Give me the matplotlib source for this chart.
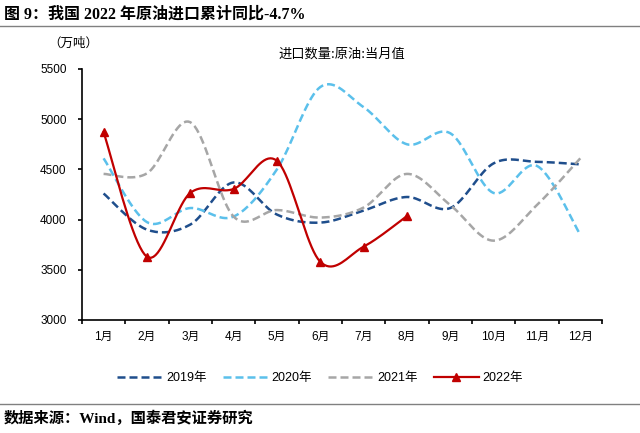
import matplotlib

matplotlib.use("Agg")
import matplotlib.pyplot as plt
import numpy as np

plt.rcParams["font.family"] = ["Liberation Sans", "Noto Sans CJK SC"]

months = ["1月", "2月", "3月", "4月", "5月", "6月",
          "7月", "8月", "9月", "10月", "11月", "12月"]

# 原油进口数量, 当月值 (万吨)
y2019 = [4260, 3900, 3950, 4370, 4050, 3970, 4090, 4225, 4115, 4560, 4575, 4550]
y2020 = [4610, 3975, 4115, 4030, 4500, 5320, 5120, 4750, 4860, 4265, 4535, 3850]
y2021 = [4455, 4460, 4970, 4030, 4095, 4020, 4120, 4455, 4145, 3790, 4145, 4610]
y2022 = [4870, 3630, 4265, 4305, 4585, 3580, 3730, 4035]


def smooth(x, y, n=20):
    # Catmull-Rom curve through the points, like Excel's "smoothed line"
    x = np.asarray(x, float)
    y = np.asarray(y, float)
    px = np.concatenate([[x[0]], x, [x[-1]]])
    py = np.concatenate([[y[0]], y, [y[-1]]])
    t = np.linspace(0, 1, n, endpoint=False)
    xs, ys = [], []
    for i in range(1, len(px) - 2):
        for p, out in ((px, xs), (py, ys)):
            p0, p1, p2, p3 = p[i - 1], p[i], p[i + 1], p[i + 2]
            out.extend(0.5 * (2 * p1 + (-p0 + p2) * t
                              + (2 * p0 - 5 * p1 + 4 * p2 - p3) * t ** 2
                              + (-p0 + 3 * p1 - 3 * p2 + p3) * t ** 3))
    xs.append(x[-1])
    ys.append(y[-1])
    return np.array(xs), np.array(ys)


fig = plt.figure(figsize=(6.4, 4.33), dpi=100)
ax = fig.add_axes([0.128, 0.261, 0.8125, 0.5797])

dash = (0, (3.2, 1.6))
series = [
    (y2019, "2019年", "#1F4E8C", dash),
    (y2020, "2020年", "#5BC0EB", dash),
    (y2021, "2021年", "#A6A6A6", dash),
]
for vals, label, color, ls in series:
    xs, ys = smooth(range(len(vals)), vals)
    ax.plot(xs, ys, color=color, lw=1.8, ls=ls, label=label)

xs, ys = smooth(range(len(y2022)), y2022)
ax.plot(xs, ys, color="#C00000", lw=1.6)
ax.plot(range(len(y2022)), y2022, ls="none", marker="^", ms=6,
        color="#C00000")
ax.plot([], [], color="#C00000", lw=1.6, marker="^", ms=6, label="2022年")

ax.set_xlim(-0.5, 11.5)
ax.set_ylim(3000, 5500)
ax.set_yticks(range(3000, 5501, 500))
ax.set_xticks(np.arange(-0.5, 11.6, 1))
ax.set_xticklabels([])
ax.set_xticks(range(12), minor=True)
ax.set_xticklabels(months, minor=True)
ax.tick_params(axis="x", which="minor", length=0, pad=8, labelsize=8.5)
ax.tick_params(axis="x", which="major", length=3, width=1.2, direction="out")
ax.tick_params(axis="y", length=3, width=1.2, labelsize=8.5, pad=8)
for s in ("top", "right"):
    ax.spines[s].set_visible(False)
for s in ("left", "bottom"):
    ax.spines[s].set_linewidth(1.2)

ax.set_title("进口数量:原油:当月值", fontsize=9.5, pad=8,
             family=["Noto Sans CJK SC"])
fig.text(0.076, 0.892, "（万吨）", fontsize=9, family=["Noto Sans CJK SC"])

fig.legend(loc="center", bbox_to_anchor=(0.5, 0.127), ncol=4, frameon=False,
           fontsize=9, handlelength=3.6, columnspacing=1.3, handletextpad=0.3)

fig.text(0.006, 0.967, "图 9：我国 2022 年原油进口累计同比-4.7%", fontsize=11.5,
         fontweight="bold", va="center",
         family=["Liberation Serif", "Noto Sans CJK SC"])
fig.add_artist(plt.Line2D([0, 1], [0.941, 0.941], color="#808080", lw=1))
fig.add_artist(plt.Line2D([0, 1], [0.067, 0.067], color="#808080", lw=1))
fig.text(0.006, 0.034, "数据来源：Wind，国泰君安证券研究", fontsize=11,
         fontweight="bold", va="center",
         family=["Liberation Serif", "Noto Sans CJK SC"])

fig.savefig("out.png", dpi=100)
